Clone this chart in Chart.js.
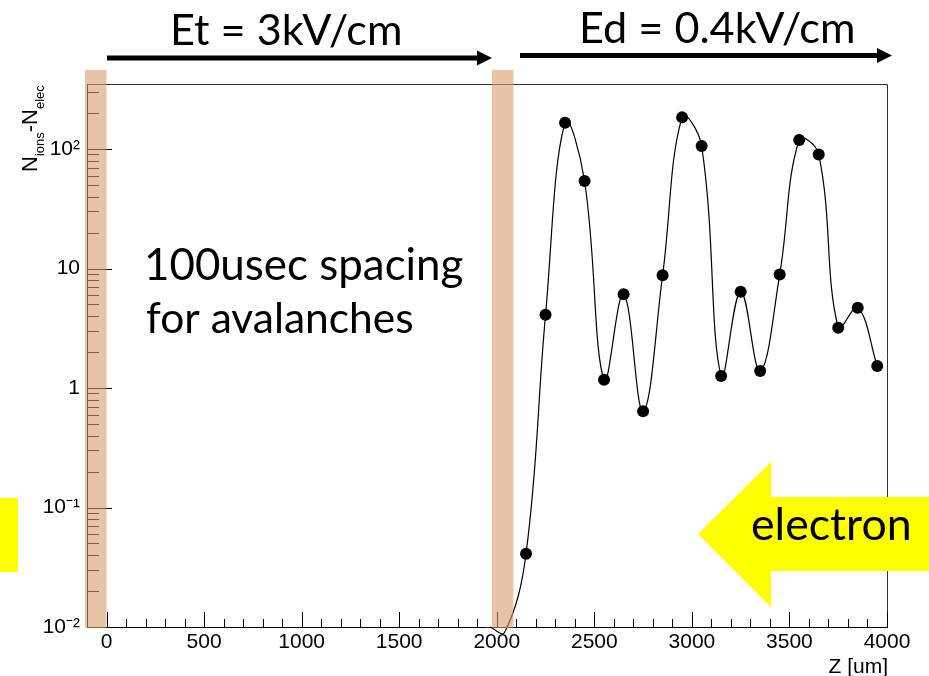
<!DOCTYPE html>
<html>
<head>
<meta charset="utf-8">
<script src="https://cdn.jsdelivr.net/npm/chart.js@4/dist/chart.umd.min.js"></script>
<style>
  html, body { margin: 0; padding: 0; background: #fff; }
  #chart { display: block; }
</style>
</head>
<body>
<canvas id="chart" width="929" height="676"></canvas>
<script>
// measured points (z in um, Nions - Nelec)
const zPos = [2150, 2250, 2350, 2450, 2550, 2650, 2750, 2850, 2950, 3050,
              3150, 3250, 3350, 3450, 3550, 3650, 3750, 3850, 3950];
const counts = [0.041, 4.1, 166, 54, 1.17, 6.1, 0.64, 8.8, 184, 106,
                1.26, 6.4, 1.39, 8.9, 119, 90, 3.2, 4.7, 1.53];
// where the smooth curve starts, left of the first marker
const leadZ = [1965, 2040];
const leadN = [0.0100, 0.0090];

const xTicks = [0, 500, 1000, 1500, 2000, 2500, 3000, 3500, 4000];
const yTicks = [0.01, 0.1, 1, 10, 100];
const yTickLabels = ['10\u207B\u00B2', '10\u207B\u00B9', '1', '10', '10\u00B2'];

// shaded regions (z ranges)
const bands = [[-110, 0], [1975, 2085]];

const rootFont = '"Liberation Sans", Arial, Helvetica, sans-serif';
const noteFont = 'Lato, "Open Sans", sans-serif';

function fitText(ctx, text, x, y, width) {
  ctx.textAlign = 'left';
  ctx.textBaseline = 'alphabetic';
  ctx.font = '40px ' + noteFont;
  const m = ctx.measureText(text);
  const w = m.actualBoundingBoxRight + m.actualBoundingBoxLeft;
  const size = 40 * width / w;
  ctx.font = size.toFixed(1) + 'px ' + noteFont;
  const m2 = ctx.measureText(text);
  ctx.fillText(text, x + m2.actualBoundingBoxLeft, y);
}

function arrow(ctx, x0, x1, y, thick, headLen, headHalf) {
  ctx.fillStyle = '#000';
  ctx.fillRect(x0, y - thick / 2, x1 - headLen - x0 + 1, thick);
  ctx.beginPath();
  ctx.moveTo(x1, y);
  ctx.lineTo(x1 - headLen, y - headHalf);
  ctx.lineTo(x1 - headLen, y + headHalf);
  ctx.closePath();
  ctx.fill();
}

const decorations = {
  id: 'decorations',
  afterDraw(chart) {
    const ctx = chart.ctx;
    const xs = chart.scales.x, ys = chart.scales.y;
    const a = chart.chartArea;
    ctx.save();

    // frame top and right
    ctx.strokeStyle = '#333';
    ctx.lineWidth = 1;
    ctx.beginPath();
    ctx.moveTo(a.left, a.top + 0.5);
    ctx.lineTo(a.right + 0.5, a.top + 0.5);
    ctx.lineTo(a.right + 0.5, a.bottom);
    ctx.stroke();

    // inward ticks, ROOT style
    ctx.strokeStyle = '#000';
    ctx.beginPath();
    for (let v = 0; v <= 4000; v += 100) {
      const px = Math.round(xs.getPixelForValue(v)) + 0.5;
      const len = v % 500 === 0 ? 15 : 8;
      ctx.moveTo(px, a.bottom);
      ctx.lineTo(px, a.bottom - len);
    }
    for (let d = -2; d <= 2; d++) {
      for (let m = 1; m <= 9; m++) {
        const v = m * Math.pow(10, d);
        if (v < 0.01 || v > ys.max) continue;
        const py = Math.round(ys.getPixelForValue(v)) + 0.5;
        const len = m === 1 ? 25 : 12;
        ctx.moveTo(a.left, py);
        ctx.lineTo(a.left + len, py);
      }
    }
    ctx.stroke();

    // shaded bands
    ctx.fillStyle = 'rgba(217,155,105,0.6)';
    bands.forEach(([z0, z1]) => {
      const x0 = xs.getPixelForValue(z0), x1 = xs.getPixelForValue(z1);
      ctx.fillRect(x0, a.top - 14, x1 - x0, a.bottom - a.top + 15);
    });

    // axis titles
    ctx.fillStyle = '#000';
    ctx.textAlign = 'right';
    ctx.textBaseline = 'alphabetic';
    ctx.font = '21px ' + rootFont;
    ctx.fillText('Z [um]', a.right + 1, 673);

    ctx.save();
    ctx.translate(37, 172);
    ctx.rotate(-Math.PI / 2);
    ctx.textAlign = 'left';
    let cx = 0;
    const parts = [['N', 22, 0], ['ions', 13, 7], ['-N', 22, 0], ['elec', 13, 7]];
    parts.forEach(([t, s, dy]) => {
      ctx.font = s + 'px ' + rootFont;
      ctx.fillText(t, cx, dy);
      cx += ctx.measureText(t).width;
    });
    ctx.restore();

    // field arrows and labels
    arrow(ctx, 107, 492, 58, 5, 15, 7.5);
    arrow(ctx, 520, 892, 55.5, 5, 15, 7.5);
    ctx.fillStyle = '#000';
    fitText(ctx, 'Et = 3kV/cm', 173, 45, 227);
    fitText(ctx, 'Ed = 0.4kV/cm', 582, 43, 271);
    fitText(ctx, '100usec spacing', 147, 280, 315);
    fitText(ctx, 'for avalanches', 147, 333, 266);

    // yellow markers
    ctx.fillStyle = '#FFFF00';
    ctx.fillRect(0, 498, 18, 74);
    ctx.beginPath();
    ctx.moveTo(698, 534);
    ctx.lineTo(771, 462);
    ctx.lineTo(771, 497);
    ctx.lineTo(929, 497);
    ctx.lineTo(929, 571);
    ctx.lineTo(771, 571);
    ctx.lineTo(771, 607);
    ctx.closePath();
    ctx.fill();
    ctx.fillStyle = '#000';
    fitText(ctx, 'electron', 752, 540, 157);

    ctx.restore();
  }
};

const curveZ = leadZ.concat(zPos);
const curveN = leadN.concat(counts);

new Chart(document.getElementById('chart'), {
  type: 'line',
  data: {
    datasets: [{
      label: 'curve',
      data: curveZ.map((z, i) => ({ x: z, y: curveN[i] })),
      borderColor: '#000',
      borderWidth: 1.2,
      pointRadius: 0,
      tension: 0.4,
      fill: false,
      clip: false
    }, {
      label: 'points',
      data: zPos.map((z, i) => ({ x: z, y: counts[i] })),
      showLine: false,
      pointRadius: 6,
      pointBackgroundColor: '#000',
      pointBorderWidth: 0
    }]
  },
  options: {
    responsive: false,
    devicePixelRatio: 1,
    animation: false,
    layout: { padding: { top: 84, right: 42, left: 0, bottom: 0 } },
    plugins: { legend: { display: false }, tooltip: { enabled: false } },
    scales: {
      x: {
        type: 'linear',
        min: -100,
        max: 4000,
        afterFit: s => { s.height = 49; },
        afterBuildTicks: s => { s.ticks = xTicks.map(v => ({ value: v })); },
        grid: { display: false, drawTicks: false },
        border: { display: true, color: '#000', width: 1 },
        ticks: {
          color: '#000',
          padding: 3,
          maxRotation: 0,
          autoSkip: false,
          font: { family: rootFont, size: 21 },
          callback: v => String(v)
        }
      },
      y: {
        type: 'logarithmic',
        min: 0.01,
        max: 350,
        afterFit: s => { s.width = 87; },
        afterBuildTicks: s => { s.ticks = yTicks.map(v => ({ value: v })); },
        grid: { display: false, drawTicks: false },
        border: { display: true, color: '#000', width: 1 },
        ticks: {
          color: '#000',
          padding: 7,
          autoSkip: false,
          font: { family: rootFont, size: 21 },
          callback: v => yTickLabels[yTicks.indexOf(v)]
        }
      }
    }
  },
  plugins: [decorations]
});
</script>
</body>
</html>
